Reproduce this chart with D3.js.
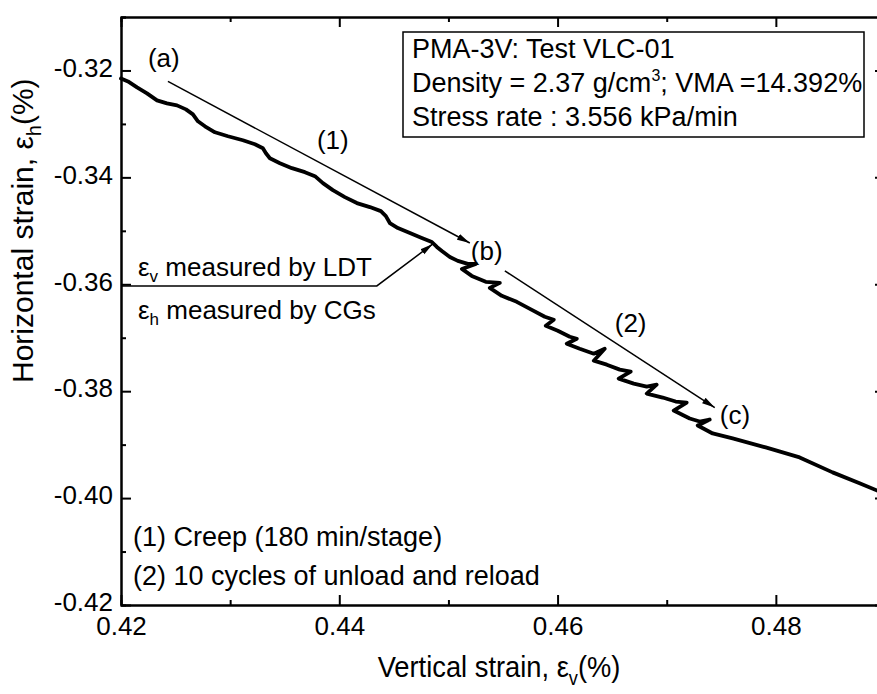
<!DOCTYPE html>
<html><head><meta charset="utf-8">
<script src="https://cdn.jsdelivr.net/npm/d3@7"></script>
<style>
body{margin:0;background:#fff}
svg text{font-family:"Liberation Sans",Arial,Helvetica,sans-serif;fill:#000}
</style>
</head><body>
<svg id="chart" width="877" height="694"></svg>
<script>
// ---- data ----
const xTickValues = [0.42, 0.44, 0.46, 0.48];
const xMinorValues = [0.43, 0.45, 0.47, 0.49];
const yTickValues = [-0.32, -0.34, -0.36, -0.38, -0.40, -0.42];
const yMinorValues = [-0.31, -0.33, -0.35, -0.37, -0.39, -0.41];
const xTickLabels = ["0.42", "0.44", "0.46", "0.48"];
const yTickLabels = ["-0.32", "-0.34", "-0.36", "-0.38", "-0.40", "-0.42"];

// vertical strain (LDT), %
const strainV = [0.42000,0.42064,0.42147,0.42238,0.42330,0.42421,0.42513,0.42595,0.42659,0.42705,
 0.42769,0.42861,0.42980,0.43117,0.43227,0.43300,0.43328,0.43364,0.43456,0.43566,
 0.43685,0.43777,0.43850,0.43941,0.44051,0.44161,0.44280,0.44381,0.44427,0.44463,
 0.44537,0.44647,0.44756,0.44848,0.44894,0.44940,0.45013,0.45086,0.45178,0.45251,
 0.45123,0.45214,0.45342,0.45471,0.45379,0.45489,0.45626,0.45764,0.45883,0.45965,
 0.45892,0.46002,0.46112,0.46176,0.46084,0.46203,0.46332,0.46432,0.46332,0.46451,
 0.46570,0.46670,0.46560,0.46698,0.46817,0.46908,0.46817,0.46963,0.47082,0.47183,
 0.47064,0.47211,0.47302,0.47394,0.47284,0.47421,0.47604,0.47907,0.48218,0.48520,
 0.48767,0.48923,0.49000];
// horizontal strain (CGs), %
const strainH = [-0.32149,-0.32205,-0.32317,-0.32429,-0.32560,-0.32616,-0.32653,-0.32728,-0.32821,-0.32951,
 -0.33045,-0.33157,-0.33231,-0.33306,-0.33381,-0.33455,-0.33549,-0.33642,-0.33735,-0.33828,
 -0.33903,-0.33978,-0.34108,-0.34239,-0.34369,-0.34481,-0.34556,-0.34631,-0.34724,-0.34854,
 -0.34948,-0.35041,-0.35134,-0.35209,-0.35302,-0.35377,-0.35489,-0.35563,-0.35619,-0.35619,
 -0.35713,-0.35843,-0.35955,-0.35974,-0.36067,-0.36216,-0.36328,-0.36478,-0.36608,-0.36664,
 -0.36776,-0.36869,-0.36981,-0.37019,-0.37112,-0.37205,-0.37299,-0.37205,-0.37429,-0.37504,
 -0.37597,-0.37634,-0.37765,-0.37858,-0.37914,-0.37877,-0.38045,-0.38119,-0.38194,-0.38213,
 -0.38362,-0.38511,-0.38567,-0.38530,-0.38642,-0.38791,-0.38884,-0.39052,-0.39239,-0.39519,
 -0.39724,-0.39854,-0.39910];

const infoLines = ["PMA-3V: Test VLC-01", "Density = 2.37 g/cm", "Stress rate : 3.556 kPa/min"];
const noteLines = ["(1) Creep (180 min/stage)", "(2) 10 cycles of unload and reload"];
const pointLabels = ["(a)", "(1)", "(b)", "(2)", "(c)"];
// annotation anchors in data units
const pointLabelX = [0.42247, 0.43795, 0.45205, 0.46524, 0.47486];
const pointLabelY = [-0.31944, -0.33474, -0.35545, -0.36888, -0.38623];
const arrow1 = [[0.42430, -0.32205], [0.45196, -0.35228]];
const arrow2 = [[0.45517, -0.35750], [0.47440, -0.38306]];
const ldtLeader = [[0.42000, -0.3603], [0.44344, -0.3603], [0.44857, -0.35246]];

// ---- layout ----
const W = 877, H = 694;
const L = 121, R = 885, T = 17, B = 605;
const svg = d3.select("#chart");
const x = d3.scaleLinear().domain([0.42, 0.49]).range([L, R]);
const y = d3.scaleLinear().domain([-0.42, -0.31]).range([B, T]);

svg.append("defs").append("marker")
  .attr("id", "ah").attr("viewBox", "0 0 13 8").attr("refX", 13).attr("refY", 4)
  .attr("markerWidth", 13).attr("markerHeight", 8).attr("markerUnits", "userSpaceOnUse")
  .attr("orient", "auto")
  .append("path").attr("d", "M0,0.8 L13,4 L0,7.2 Z").attr("fill", "#000");

// axes (ticks inward, on all four sides)
const fmt = (vals, labs) => d => labs[vals.indexOf(d)];
const axB = d3.axisBottom(x).tickValues(xTickValues).tickSizeInner(-10).tickSizeOuter(0).tickPadding(12).tickFormat(fmt(xTickValues, xTickLabels));
const axL = d3.axisLeft(y).tickValues(yTickValues).tickSizeInner(-10).tickSizeOuter(0).tickPadding(8).tickFormat(fmt(yTickValues, yTickLabels));
const axT = d3.axisTop(x).tickValues(xTickValues).tickSizeInner(-10).tickSizeOuter(0).tickFormat("");
const axR = d3.axisRight(y).tickValues(yTickValues).tickSizeInner(-10).tickSizeOuter(0).tickFormat("");
const mB = d3.axisBottom(x).tickValues(xMinorValues).tickSize(-5).tickFormat("");
const mL = d3.axisLeft(y).tickValues(yMinorValues).tickSize(-5).tickFormat("");
const mT = d3.axisTop(x).tickValues(xMinorValues).tickSize(-5).tickFormat("");
const mR = d3.axisRight(y).tickValues(yMinorValues).tickSize(-5).tickFormat("");

function styleAxis(g){
  g.select(".domain").attr("stroke", "#000").attr("stroke-width", 2);
  g.selectAll(".tick line").attr("stroke", "#000").attr("stroke-width", 2);
  g.selectAll(".tick text").style("font-size", "26px").attr("fill", "#000");
}
const axisGroups = [ [axB, `translate(0,${B})`], [axL, `translate(${L},0)`], [axT, `translate(0,${T})`], [axR, `translate(${R},0)`],
  [mB, `translate(0,${B})`], [mL, `translate(${L},0)`], [mT, `translate(0,${T})`], [mR, `translate(${R},0)`]
].map(([a, t]) => svg.append("g").attr("transform", t).call(a).call(styleAxis).attr("font-family", null));
svg.selectAll(".tick text").style("font-family", '"Liberation Sans",Arial,sans-serif');
axisGroups[1].selectAll(".tick text").attr("dy", "0.22em");

// the curve
const pts = strainV.map((v, i) => [v, strainH[i]]);
svg.append("path").datum(pts)
  .attr("d", d3.line().x(d => x(d[0])).y(d => y(d[1])))
  .attr("fill", "none").attr("stroke", "#000").attr("stroke-width", 3.8)
  .attr("stroke-linejoin", "round").attr("stroke-linecap", "round");

// arrows
const ln = d3.line().x(d => x(d[0])).y(d => y(d[1]));
[arrow1, arrow2, ldtLeader].forEach(a => svg.append("path").attr("d", ln(a))
  .attr("fill", "none").attr("stroke", "#000").attr("stroke-width", 1.5).attr("marker-end", "url(#ah)"));

// point labels
pointLabels.forEach((t, i) => svg.append("text").attr("x", x(pointLabelX[i])).attr("y", y(pointLabelY[i]))
  .style("font-size", "26px").text(t));

// info box
svg.append("rect").attr("x", 403).attr("y", 32).attr("width", 461).attr("height", 105)
  .attr("fill", "#fff").attr("stroke", "#000").attr("stroke-width", 1.5);
const info = svg.append("g").style("font-size", "27px");
info.append("text").attr("x", 412).attr("y", 58).text(infoLines[0]);
const l2 = info.append("text").attr("x", 412).attr("y", 92);
l2.append("tspan").text(infoLines[1]);
l2.append("tspan").attr("dy", -11).style("font-size", "16px").text("3");
l2.append("tspan").attr("dy", 11).text("; VMA =14.392%");
info.append("text").attr("x", 412).attr("y", 126).text(infoLines[2]);

// LDT / CG labels
const t1 = svg.append("text").attr("x", 138).attr("y", y(-0.3603) - 10).style("font-size", "26px");
t1.append("tspan").text("ε");
t1.append("tspan").attr("dy", 6).style("font-size", "17px").text("v");
t1.append("tspan").attr("dy", -6).text(" measured by LDT");
const t2 = svg.append("text").attr("x", 138).attr("y", y(-0.3603) + 33).style("font-size", "26px");
t2.append("tspan").text("ε");
t2.append("tspan").attr("dy", 6).style("font-size", "17px").text("h");
t2.append("tspan").attr("dy", -6).text(" measured by CGs");

// notes
noteLines.forEach((t, i) => svg.append("text").attr("x", 133).attr("y", 546 + i * 39).style("font-size", "27px").text(t));

// axis titles
const xg = svg.append("g").attr("transform", "translate(499,677) scale(0.91,1)");
const xt = xg.append("text").attr("x", 0).attr("y", 0).attr("text-anchor", "middle").style("font-size", "30px");
xt.append("tspan").text("Vertical strain, ε");
xt.append("tspan").attr("dy", 8).style("font-size", "20px").text("v");
xt.append("tspan").attr("dy", -8).text("(%)");
const yt = svg.append("text").attr("transform", "translate(33,383) rotate(-90)").attr("text-anchor", "start").style("font-size", "30px");
yt.append("tspan").text("Horizontal strain, ε");
yt.append("tspan").attr("dy", 8).style("font-size", "20px").text("h");
yt.append("tspan").attr("dy", -8).text("(%)");
</script>
</body></html>
